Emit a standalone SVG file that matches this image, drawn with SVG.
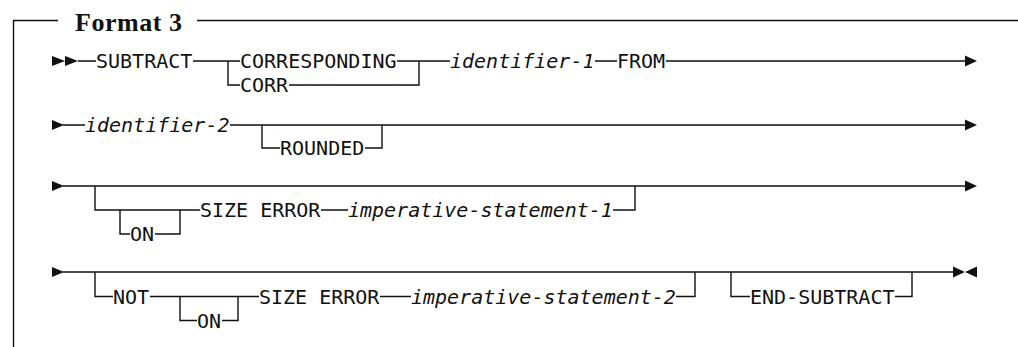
<svg xmlns="http://www.w3.org/2000/svg" width="1018" height="347" viewBox="0 0 1018 347">
<style>
.t{font-family:"DejaVu Sans Mono","Liberation Mono",monospace;font-size:20px;fill:#111}
.i{font-style:italic}
.c{fill:none;stroke:#111;stroke-width:1.4}
.a{fill:#111}
.h{font-family:"Liberation Serif","DejaVu Serif",serif;font-weight:bold;font-size:26px;fill:#111}
</style>
<rect width="1018" height="347" fill="#fff"/>
<g id="frame">
<path class="c" d="M13.5,347 V20.5 H58 M197,20.5 H1018"/>
<text class="h" x="75" y="30.7" textLength="107" lengthAdjust="spacing">Format 3</text>
</g>
<g id="connectors">
<!-- row 1 -->
<path class="c" d="M78,61 H96 M193,61 H240 M228,61 V85 H240 M289,85 H419 V61 M397,61 H450 M595,61 H617 M666,61 H966"/>
<!-- row 2 -->
<path class="c" d="M63,125 H85 M230,125 H966 M262,125 V148 H280 M365,148 H382 V125"/>
<!-- row 3 -->
<path class="c" d="M63,186 H966 M95,186 V210 H200 M120,210 V234 H130 M155,234 H180 V210 M321,210 H348 M613,210 H635 V186"/>
<!-- row 4 -->
<path class="c" d="M63,272 H954 M95,272 V296.5 H113 M150,296.5 H259 M180,296.5 V320.5 H197 M222,320.5 H238 V296.5 M380,296.5 H411 M676,296.5 H695 V272 M731,272 V296.5 H750 M895,296.5 H912 V272"/>
</g>
<g id="arrows">
<path class="a" d="M52,56 L65,61 L52,66 Z M65,56 L78,61 L65,66 Z"/>
<path class="a" d="M965,55.5 L977,61 L965,66.5 Z"/>
<path class="a" d="M52,120 L64,125 L52,130 Z M965,119.5 L977,125 L965,130.5 Z"/>
<path class="a" d="M52,181 L64,186 L52,191 Z M965,180.5 L977,186 L965,191.5 Z"/>
<path class="a" d="M52,267 L64,272 L52,277 Z M953,266.5 L965,272 L953,277.5 Z M977,266.5 L965,272 L977,277.5 Z"/>
</g>
<g id="subtract"><text class="t" x="96" y="68.3">SUBTRACT</text></g>
<g id="corresponding"><text class="t" x="240" y="68.3">CORRESPONDING</text></g>
<g id="corr"><text class="t" x="240" y="92.3">CORR</text></g>
<g id="identifier-1"><text class="t i" x="450" y="68.3">identifier-1</text></g>
<g id="from"><text class="t" x="617" y="68.3">FROM</text></g>
<g id="identifier-2"><text class="t i" x="85" y="132.3">identifier-2</text></g>
<g id="rounded"><text class="t" x="280" y="155.3">ROUNDED</text></g>
<g id="on-1"><text class="t" x="130" y="241.3">ON</text></g>
<g id="size-error-1"><text class="t" x="200" y="217.3">SIZE ERROR</text></g>
<g id="imperative-1"><text class="t i" x="348" y="217.3">imperative-statement-1</text></g>
<g id="not"><text class="t" x="113" y="303.8">NOT</text></g>
<g id="on-2"><text class="t" x="197" y="327.8">ON</text></g>
<g id="size-error-2"><text class="t" x="259" y="303.8">SIZE ERROR</text></g>
<g id="imperative-2"><text class="t i" x="411" y="303.8">imperative-statement-2</text></g>
<g id="end-subtract"><text class="t" x="750" y="303.8">END-SUBTRACT</text></g>
</svg>
